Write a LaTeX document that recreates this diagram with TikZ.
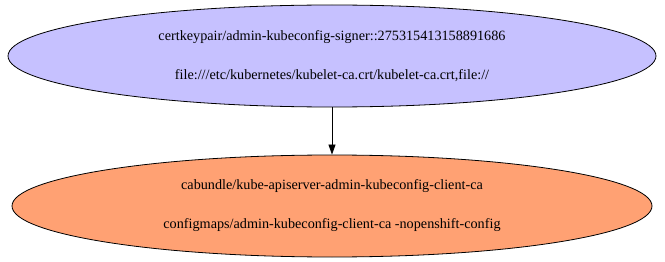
\documentclass[tikz,border=0pt]{standalone}
\usepackage{fontspec}
\setmainfont{Liberation Serif}
\usetikzlibrary{shapes.geometric,arrows.meta}

\definecolor{signerfill}{HTML}{C6C1FF}
\definecolor{bundlefill}{HTML}{FFA173}

\begin{document}
\begin{tikzpicture}[x=1pt,y=1pt,
  certnode/.style={draw,ellipse,line width=0.8pt,fill=signerfill,minimum width=648pt,minimum height=102pt,inner sep=0pt,align=center,font=\fontsize{14.2}{17}\selectfont},
  bundlenode/.style={certnode,fill=bundlefill,minimum width=640pt},
  edge/.style={-{Triangle[length=10pt,width=7pt]},line width=0.8pt}]

\useasboundingbox (0,0) rectangle (665,-262);

\node[certnode] (signer) at (332,-56) {certkeypair/admin-kubeconfig-signer::275315413158891686\\[22pt]file:///etc/kubernetes/kubelet-ca.crt/kubelet-ca.crt,file://};

\node[bundlenode] (bundle) at (332,-206) {cabundle/kube-apiserver-admin-kubeconfig-client-ca\\[22pt]configmaps/admin-kubeconfig-client-ca -nopenshift-config};

\draw[edge] (signer) -- (bundle);

\end{tikzpicture}
\end{document}
